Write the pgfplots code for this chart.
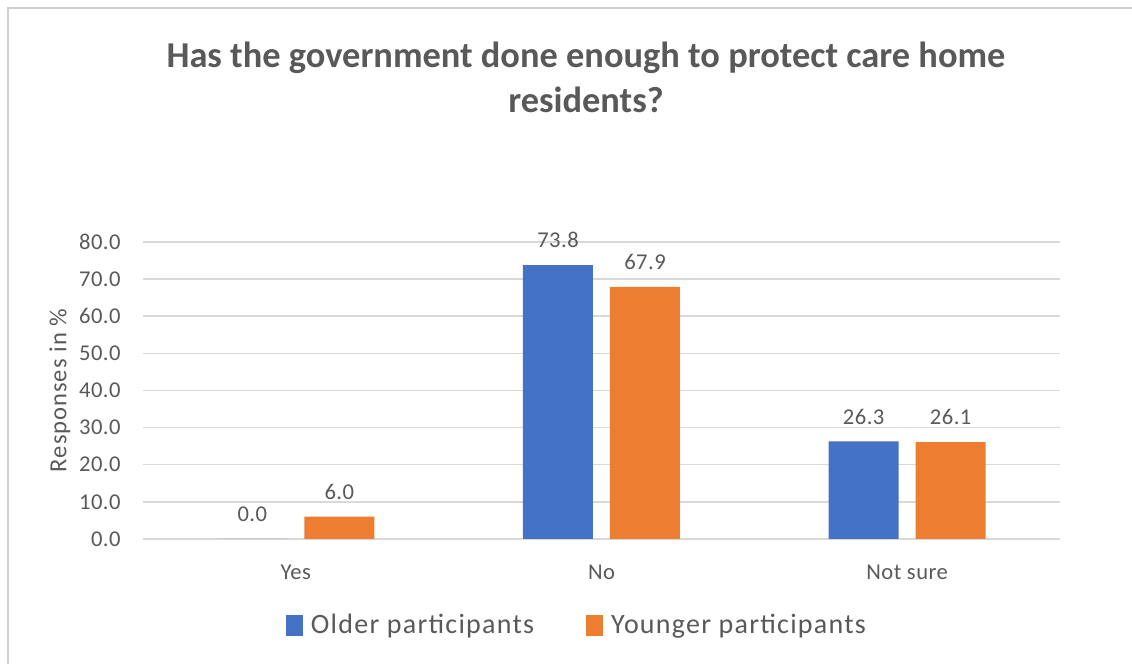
\documentclass[border=0pt]{standalone}
\usepackage{pgfplots}
\pgfplotsset{compat=1.18}
\usepackage{fontspec}
\setmainfont{Carlito}
\definecolor{txt}{HTML}{595959}
\definecolor{gridc}{HTML}{D9D9D9}
\definecolor{cblue}{HTML}{4472C4}
\definecolor{corange}{HTML}{ED7D31}
\definecolor{framec}{HTML}{D0D0D0}
\begin{document}
\begin{tikzpicture}
\useasboundingbox (0,0) rectangle (566pt,332pt);
\draw[framec, line width=1pt] (4pt,-10pt) -- (4pt,328pt) -- (580pt,328pt);
\node[font=\bfseries\fontsize{18.2}{22.5}\selectfont, text=txt, align=center] at (293pt,293.5pt) {Has the government done enough to protect care home\\residents?};
\begin{axis}[
  at={(71.5pt,62.5pt)}, anchor=south west,
  scale only axis, width=458.5pt, height=148.5pt,
  xmin=-0.5, xmax=2.5, ymin=0, ymax=80,
  xtick={0,1,2}, xticklabels={Yes,No,Not sure},
  ytick={0,10,...,80},
  ymajorgrids, grid style={gridc, line width=0.75pt},
  axis line style={draw=none},
  major tick length=0pt,
  ybar=8.5pt, bar width=35pt,
  tick label style={font=\fontsize{11.3}{13}\selectfont\addfontfeatures{LetterSpace=2}, text=txt},
  yticklabel style={anchor=east, inner sep=0pt, xshift=-11pt,
    /pgf/number format/.cd, fixed, fixed zerofill, precision=1, assume math mode=true},
  xticklabel style={anchor=center, inner sep=0pt, yshift=-16.5pt},
  ylabel={Responses in \%},
  every axis y label/.style={at={(axis description cs:0,0.5)}, xshift=-41.5pt, rotate=90, anchor=center, font=\fontsize{12.3}{14}\selectfont\addfontfeatures{LetterSpace=4}, text=txt},
  nodes near coords={\pgfmathprintnumber[fixed,fixed zerofill,precision=1,assume math mode=true]{\pgfplotspointmeta}},
  every node near coord/.append style={font=\fontsize{11.3}{13}\selectfont\addfontfeatures{LetterSpace=2}, text=txt, yshift=5pt},
  legend columns=2,
  legend style={at={(0.4765,-0.29)}, anchor=center, draw=none, fill=none,
    font=\fontsize{14}{16}\selectfont\addfontfeatures{LetterSpace=4.5}, text=txt,
    /tikz/every even column/.append style={column sep=22pt},
    nodes={inner xsep=4pt}},
  legend image code/.code={\fill[#1] (0pt,-5.2pt) rectangle (8.5pt,5.2pt);},
  clip=false,
]
\addplot[fill=cblue, draw=none] coordinates {(0,0.0) (1,73.8) (2,26.3)};
\addplot[fill=corange, draw=none] coordinates {(0,6.0) (1,67.9) (2,26.1)};
\legend{Older participants, Younger participants}
\end{axis}
\end{tikzpicture}
\end{document}
